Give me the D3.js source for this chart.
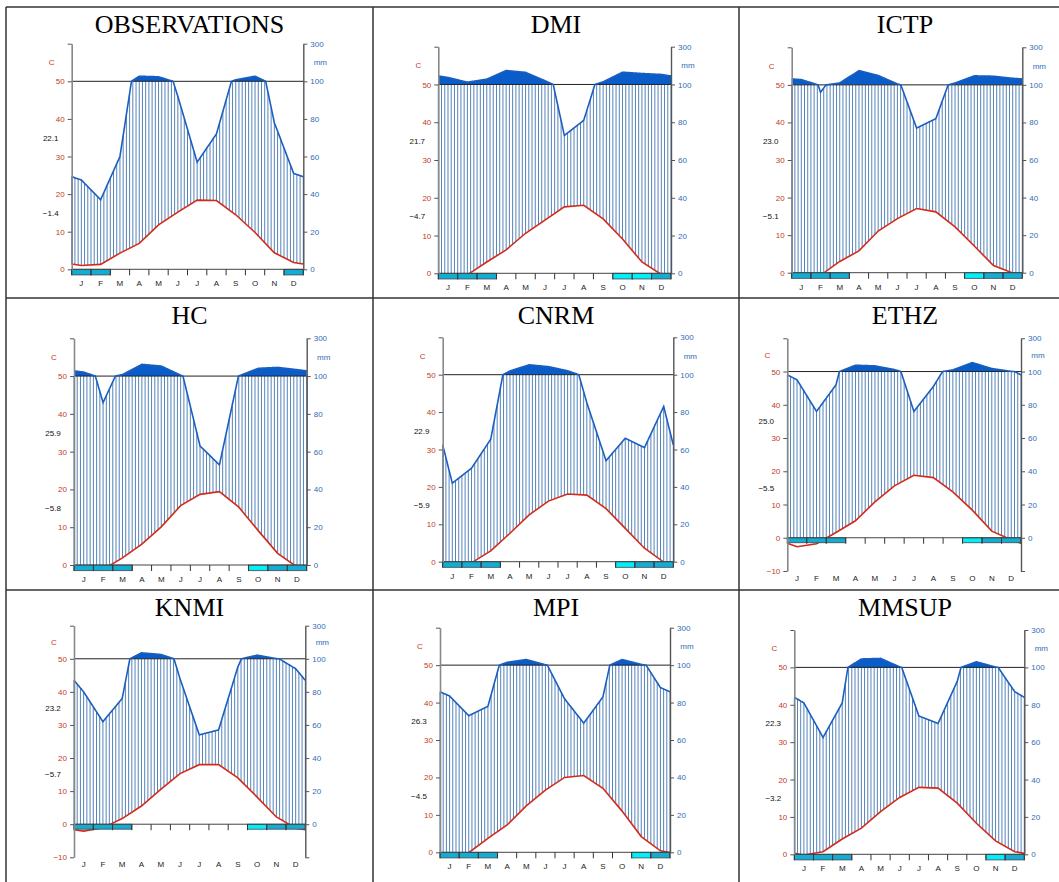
<!DOCTYPE html>
<html>
<head>
<meta charset="utf-8">
<script src="https://cdn.jsdelivr.net/npm/d3@7"></script>
<style>
  body { margin: 0; background: #fff; }
  svg { display: block; }
</style>
</head>
<body>
<svg id="chart" width="1059" height="882"></svg>
<script>
// climate diagrams (Walter-Lieth style), one per model

const monthLabels = ["J", "F", "M", "A", "M", "J", "J", "A", "S", "O", "N", "D"];
const titles = ["OBSERVATIONS", "DMI", "ICTP", "HC", "CNRM", "ETHZ", "KNMI", "MPI", "MMSUP"];

// monthly mean temperature (C)
const temperature = [
  [1.0, 1.3, 4.3, 6.9, 11.8, 15.2, 18.4, 18.3, 14.5, 9.8, 4.4, 1.8],
  [-0.6, -0.4, 3.0, 6.2, 10.6, 14.1, 17.6, 18.0, 14.4, 9.1, 3.0, -0.3],
  [-0.8, -0.7, 3.0, 5.8, 11.1, 14.4, 17.1, 16.2, 12.2, 7.1, 1.9, -0.1],
  [-1.0, -1.2, 1.9, 5.5, 10.1, 15.7, 18.7, 19.4, 15.3, 9.1, 3.1, -0.5],
  [-0.5, -0.3, 2.9, 7.6, 12.5, 16.2, 18.1, 17.8, 14.2, 8.9, 3.6, -0.1],
  [-2.7, -1.8, 1.6, 5.1, 10.8, 15.6, 18.8, 18.1, 13.8, 8.3, 2.0, -0.6],
  [-2.1, -1.1, 1.7, 5.5, 10.5, 15.3, 18.0, 18.0, 14.0, 8.2, 2.2, -1.2],
  [-0.5, -0.1, 3.7, 7.3, 12.4, 16.6, 20.0, 20.5, 17.1, 11.0, 4.2, 0.4],
  [-0.2, 0.7, 4.1, 7.0, 11.4, 15.2, 17.9, 17.7, 13.7, 8.3, 3.6, 0.7]
];

// monthly precipitation (mm)
const precipitation = [
  [47.5, 37, 60, 127, 124, 92, 57, 72, 108, 127, 78, 51],
  [137, 112, 128, 174, 164, 120, 73, 81, 114, 165, 158, 153],
  [128, 96, 110, 176, 150, 105, 77, 82, 110, 148, 146, 135],
  [121, 86, 108, 162, 153, 105, 63, 53, 101, 141, 146, 134],
  [42, 50, 65.5, 120, 153, 143, 121, 85, 54, 66, 61, 83],
  [95, 76, 92, 138, 134, 112, 76, 91, 110, 154, 118, 101],
  [80, 62, 76, 136, 126, 88, 54, 57, 95, 122, 101, 94],
  [83.5, 73, 78, 115, 130, 102, 82, 69, 83, 130, 104, 88],
  [81, 62.5, 81, 145, 148, 103, 74, 70, 92.5, 130, 102, 87]
];

// frost months: 0 none, 1 sure frost, 2 probable frost
const frost = [
  [1, 1, 0, 0, 0, 0, 0, 0, 0, 0, 0, 1],
  [1, 1, 1, 0, 0, 0, 0, 0, 0, 2, 2, 1],
  [1, 1, 1, 0, 0, 0, 0, 0, 0, 2, 1, 1],
  [1, 1, 1, 0, 0, 0, 0, 0, 0, 2, 1, 1],
  [1, 1, 1, 0, 0, 0, 0, 0, 0, 2, 1, 1],
  [1, 1, 1, 0, 0, 0, 0, 0, 0, 2, 1, 1],
  [1, 1, 1, 0, 0, 0, 0, 0, 0, 2, 1, 1],
  [1, 1, 1, 0, 0, 0, 0, 0, 0, 0, 2, 1],
  [1, 1, 1, 0, 0, 0, 0, 0, 0, 0, 2, 1]
];

// values printed left of the temperature axis
const warmMax = ["22.1", "21.7", "23.0", "25.9", "22.9", "25.0", "23.2", "26.3", "22.3"];
const coldMin = ["\u22121.4", "\u22124.7", "\u22125.1", "\u22125.8", "\u22125.9", "\u22125.5", "\u22125.7", "\u22124.5", "\u22123.2"];

// plot frames: [left axis x, right axis x, y at top (60), y at bottom of scale]
const frames = [
  [71.7, 303.3, 43.7, 269.3],
  [438.3, 671, 46.7, 273.3],
  [791.7, 1022.3, 47.3, 272.7],
  [74, 306.7, 338.3, 565],
  [442.7, 673.3, 337.3, 561.7],
  [787.3, 1021, 338.3, 571],
  [74, 305.3, 625.7, 857.3],
  [440, 670, 627.7, 852.3],
  [794.3, 1024.3, 630, 854.3]
];
const cellX = [6, 373, 739, 1071];
const cellY = [7, 298, 590, 882];

const colors = {
  hatch: "#5583b8", precip: "#1a5fc0", wet: "#0a5cc8", temp: "#d42a1a",
  sure: "#12aed2", probable: "#00f0f8", red: "#c23b22", blue: "#2f6db5"
};

const svg = d3.select("#chart");
const font = "'Liberation Sans', Arial, sans-serif";

// mm -> temperature units (20 mm = 10 C up to 100 mm, compressed above)
const pg = p => p <= 100 ? p / 2 : 50 + (p - 100) / 20;

// grid lines
[cellY[0], cellY[1], cellY[2]].forEach(yy => {
  svg.append("line").attr("x1", cellX[0]).attr("x2", 1059).attr("y1", yy).attr("y2", yy)
    .attr("stroke", "#333").attr("stroke-width", 1.5);
});
[cellX[0], cellX[1], cellX[2]].forEach(xx => {
  svg.append("line").attr("x1", xx).attr("x2", xx).attr("y1", cellY[0]).attr("y2", 882)
    .attr("stroke", "#333").attr("stroke-width", 1.5);
});

titles.forEach((name, i) => {
  const [x0, x1, yTop, yBot] = frames[i];
  const t = temperature[i], p = precipitation[i];
  const col = i % 3, row = Math.floor(i / 3);
  const ymin = d3.min(t) < -1.5 ? -10 : 0;

  const x = d3.scaleLinear().domain([0, 12]).range([x0, x1]);
  const y = d3.scaleLinear().domain([ymin, 60]).range([yBot, yTop]);
  const yp = d3.scaleLinear().domain([ymin * 2, 0, 100, 300]).range([y(ymin), y(0), y(50), y(60)]);

  // monthly values at month centres, padded to the edges with the Dec/Jan mean
  const nodes = [0, ...d3.range(12).map(m => m + 0.5), 12];
  const tEdge = (t[0] + t[11]) / 2, pEdge = (p[0] + p[11]) / 2;
  const tAt = d3.scaleLinear().domain(nodes).range([tEdge, ...t, tEdge]);
  const pAt = d3.scaleLinear().domain(nodes).range([pEdge, ...p, pEdge]);
  const fine = d3.range(0, 12.0001, 0.02);

  const g = svg.append("g");

  // title
  g.append("text")
    .attr("x", (cellX[col] + cellX[col + 1]) / 2)
    .attr("y", cellY[row] + 25.5)
    .attr("text-anchor", "middle")
    .attr("font-family", "'Liberation Serif', 'Times New Roman', serif")
    .attr("font-size", 26)
    .attr("fill", "#000")
    .text(name);

  // humid period hatching
  g.selectAll(".hatch")
    .data(d3.range(0, 12.0001, 1 / 6).filter(d => Math.min(50, pg(pAt(d))) > Math.max(0, tAt(d))))
    .join("line")
    .attr("class", "hatch")
    .attr("x1", d => x(d)).attr("x2", d => x(d))
    .attr("y1", d => y(Math.max(0, tAt(d))))
    .attr("y2", d => y(Math.min(50, pg(pAt(d)))))
    .attr("stroke", colors.hatch)
    .attr("stroke-width", 1);

  // precipitation above 100 mm
  g.append("path")
    .datum(fine)
    .attr("d", d3.area().x(d => x(d)).y0(y(50)).y1(d => y(Math.max(50, pg(pAt(d))))))
    .attr("fill", colors.wet);

  // 100 mm line
  g.append("line")
    .attr("x1", x0).attr("x2", x1).attr("y1", y(50)).attr("y2", y(50))
    .attr("stroke", "#222").attr("stroke-width", 1);

  // precipitation curve
  g.append("path")
    .datum(fine)
    .attr("d", d3.line().x(d => x(d)).y(d => y(pg(pAt(d)))))
    .attr("fill", "none")
    .attr("stroke", colors.precip)
    .attr("stroke-width", 1.6);

  // temperature curve
  g.append("path")
    .datum(nodes)
    .attr("d", d3.line().x(d => x(d)).y(d => y(tAt(d))))
    .attr("fill", "none")
    .attr("stroke", colors.temp)
    .attr("stroke-width", 1.6);

  // frost boxes
  g.selectAll(".frost")
    .data(frost[i].map((f, m) => ({ f, m })).filter(d => d.f > 0))
    .join("rect")
    .attr("class", "frost")
    .attr("x", d => x(d.m)).attr("width", x(1) - x(0))
    .attr("y", y(0)).attr("height", y(-1.5) - y(0))
    .attr("fill", d => d.f === 1 ? colors.sure : colors.probable)
    .attr("stroke", "#445").attr("stroke-width", 0.8);

  // month axis at 0
  g.append("line")
    .attr("x1", x0).attr("x2", x1).attr("y1", y(0)).attr("y2", y(0))
    .attr("stroke", "#444").attr("stroke-width", 1);
  g.selectAll(".mtick")
    .data(d3.range(13))
    .join("line")
    .attr("class", "mtick")
    .attr("x1", d => x(d)).attr("x2", d => x(d))
    .attr("y1", y(0)).attr("y2", y(0) + 6)
    .attr("stroke", "#333").attr("stroke-width", 1);
  const labelY = ymin < 0 ? y(ymin) + 7 : y(0) + 14;
  g.selectAll(".mlab")
    .data(monthLabels)
    .join("text")
    .attr("class", "mlab")
    .attr("x", (d, m) => x(m + 0.5))
    .attr("y", labelY)
    .attr("dy", "0.35em")
    .attr("text-anchor", "middle")
    .attr("font-family", font).attr("font-size", 8).attr("fill", "#222")
    .text(d => d);

  // temperature axis
  const left = g.append("g")
    .attr("transform", `translate(${x0},0)`)
    .call(d3.axisLeft(y)
      .tickValues(d3.range(ymin, 61, 10))
      .tickFormat(d => d === 60 ? "" : (d < 0 ? "\u2212" + (-d) : d))
      .tickSize(4).tickSizeOuter(0).tickPadding(3));
  left.select(".domain").attr("stroke", "#888").attr("stroke-width", 1.6);
  left.selectAll(".tick line").attr("stroke", "#555");
  left.selectAll("text").attr("fill", colors.red).attr("font-family", font).attr("font-size", 8);

  // precipitation axis
  const right = g.append("g")
    .attr("transform", `translate(${x1},0)`)
    .call(d3.axisRight(yp)
      .tickValues(ymin < 0 ? [ymin * 2, 0, 20, 40, 60, 80, 100, 300] : [0, 20, 40, 60, 80, 100, 300])
      .tickFormat(d => d < 0 ? "" : d)
      .tickSize(4).tickSizeOuter(0).tickPadding(3));
  right.select(".domain").attr("stroke", "#555").attr("stroke-width", 1.4);
  right.selectAll(".tick line").attr("stroke", "#555");
  right.selectAll("text").attr("fill", colors.blue).attr("font-family", font).attr("font-size", 8);

  // units and extreme values
  g.append("text").attr("x", x0 - 20).attr("y", y(55)).attr("dy", "0.35em")
    .attr("text-anchor", "middle").attr("font-family", font).attr("font-size", 8)
    .attr("fill", colors.red).text("C");
  g.append("text").attr("x", x1 + 17).attr("y", y(55)).attr("dy", "0.35em")
    .attr("text-anchor", "middle").attr("font-family", font).attr("font-size", 8)
    .attr("fill", colors.blue).text("mm");
  g.append("text").attr("x", x0 - 21).attr("y", y(35)).attr("dy", "0.35em")
    .attr("text-anchor", "middle").attr("font-family", font).attr("font-size", 8)
    .attr("fill", "#111").text(warmMax[i]);
  g.append("text").attr("x", x0 - 21).attr("y", y(15)).attr("dy", "0.35em")
    .attr("text-anchor", "middle").attr("font-family", font).attr("font-size", 8)
    .attr("fill", "#111").text(coldMin[i]);
});
</script>
</body>
</html>
